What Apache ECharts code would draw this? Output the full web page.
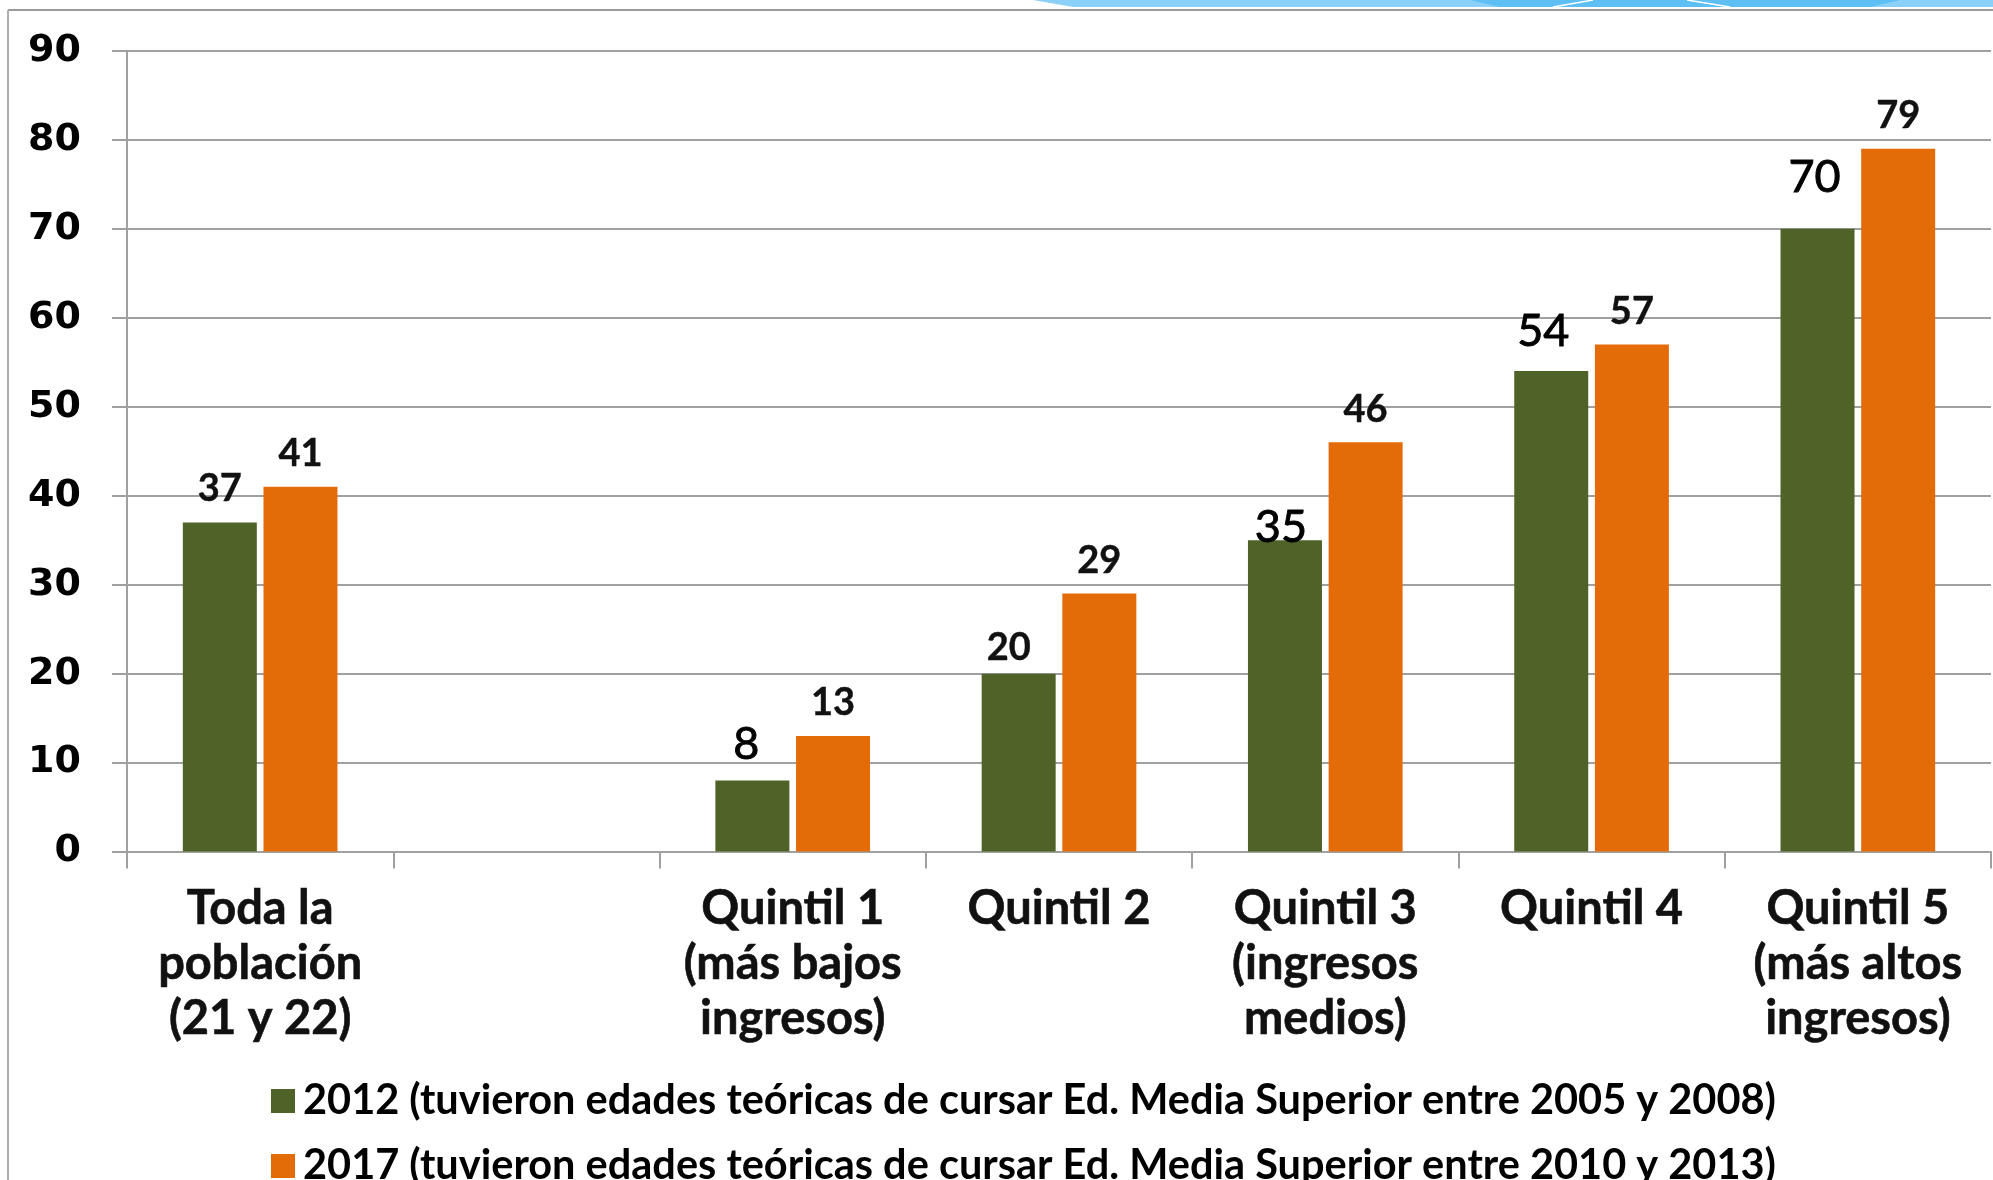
<!DOCTYPE html>
<html lang="es">
<head>
<meta charset="utf-8">
<title>Asistencia por quintil de ingreso</title>
<script src="https://cdn.jsdelivr.net/npm/echarts@6/dist/echarts.min.js"></script>
<style>
  html, body { margin: 0; padding: 0; background: #ffffff; }
  #chart { width: 1993px; height: 1180px; }
</style>
</head>
<body>
<div id="chart"></div>
<script>
// Categories (the second slot is an intentional empty gap)
const categories = [
  'Toda la\npoblación\n(21 y 22)',
  '',
  'Quintil 1\n(más bajos\ningresos)',
  'Quintil 2',
  'Quintil 3\n(ingresos\nmedios)',
  'Quintil 4',
  'Quintil 5\n(más altos\ningresos)'
];

// Series values (percent)
const values2012 = [37, null, 8, 20, 35, 54, 70];
const values2017 = [41, null, 13, 29, 46, 57, 79];

const seriesNames = [
  '2012 (tuvieron edades teóricas de cursar Ed. Media Superior entre 2005 y 2008)',
  '2017 (tuvieron edades teóricas de cursar Ed. Media Superior entre 2010 y 2013)'
];

// Value axis ticks
const yMin = 0;
const yMax = 90;
const yStep = 10;

// ---- styling ----
const GREEN = '#4F6228';
const ORANGE = '#E36C09';
const GRID_GRAY = '#a0a0a0';

const boldLabel = {
  fontFamily: 'Lato', fontWeight: 'bold', fontSize: 38, color: '#111',
  textBorderColor: '#111', textBorderWidth: 0.4
};
const plainLabel = {
  fontFamily: 'Lato', fontWeight: 'normal', fontSize: 45, color: '#000',
  textBorderColor: '#000', textBorderWidth: 0.9
};

// per-bar label appearance for the 2012 series (index -> style)
const greenLabelStyle = {
  0: Object.assign({ distance: 15, offset: [0, 0] }, boldLabel),
  2: Object.assign({ distance: 13, offset: [-6, 0] }, plainLabel),
  3: Object.assign({ distance: 7, offset: [-10, 0] }, boldLabel),
  4: Object.assign({ distance: -10, offset: [-4, 0] }, plainLabel),
  5: Object.assign({ distance: 17, offset: [-8, 0] }, plainLabel),
  6: Object.assign({ distance: 29, offset: [-3, 0] }, plainLabel)
};

const data2012 = values2012.map((v, i) => {
  if (v === null) return null;
  const s = greenLabelStyle[i] || {};
  return { value: v, label: Object.assign({ show: true, position: 'top' }, s) };
});
const data2017 = values2017.map(v => v);

const legendText = {
  fontFamily: 'Lato', fontWeight: 'bold', fontSize: 41.5, color: '#000',
  lineHeight: 44, padding: [0, 0, 0, 3]
};

// one legend block per series, stacked in two rows
function legendRow(name, top) {
  return {
    orient: 'horizontal',
    left: 266,
    top: top,
    icon: 'rect',
    itemWidth: 24,
    itemHeight: 24,
    data: [name],
    textStyle: legendText
  };
}

const chart = echarts.init(document.getElementById('chart'), null, { renderer: 'canvas' });

const option = {
  backgroundColor: '#ffffff',
  animation: false,
  grid: { left: 127, right: 2, top: 50.8, bottom: 328.4, containLabel: false },
  legend: [
    legendRow(seriesNames[0], 1074),
    legendRow(seriesNames[1], 1139)
  ],
  xAxis: {
    type: 'category',
    data: categories,
    boundaryGap: true,
    axisLine: { show: true, lineStyle: { color: GRID_GRAY, width: 2 } },
    axisTick: { show: true, length: 17, alignWithLabel: false, lineStyle: { color: GRID_GRAY, width: 2 } },
    axisLabel: {
      interval: 0,
      margin: 30,
      fontFamily: 'Lato',
      fontWeight: 'bold',
      fontSize: 47,
      lineHeight: 55,
      color: '#111',
      align: 'center',
      textBorderColor: '#111',
      textBorderWidth: 0.6
    },
    splitLine: { show: false }
  },
  yAxis: {
    type: 'value',
    min: yMin,
    max: yMax,
    interval: yStep,
    axisLine: { show: true, lineStyle: { color: GRID_GRAY, width: 2 } },
    axisTick: { show: true, length: 15, inside: false, lineStyle: { color: GRID_GRAY, width: 2 } },
    axisLabel: {
      margin: 46,
      fontFamily: 'DejaVu Sans',
      fontWeight: 'bold',
      fontSize: 38,
      color: '#000'
    },
    splitLine: { show: true, lineStyle: { color: GRID_GRAY, width: 2 } }
  },
  series: [
    {
      name: seriesNames[0],
      type: 'bar',
      data: data2012,
      barWidth: 74,
      barGap: '9%',
      itemStyle: { color: GREEN },
      label: { show: true, position: 'top' }
    },
    {
      name: seriesNames[1],
      type: 'bar',
      data: data2017,
      barWidth: 74,
      itemStyle: { color: ORANGE },
      label: Object.assign({ show: true, position: 'top', distance: 14 }, boldLabel)
    }
  ],
  graphic: [
    // slide frame: top and left edges
    { type: 'line', z: 0, shape: { x1: 8, y1: 10, x2: 1993, y2: 10 }, style: { stroke: '#9a9a9a', lineWidth: 2 } },
    { type: 'line', z: 0, shape: { x1: 8, y1: 10, x2: 8, y2: 1180 }, style: { stroke: '#b0b0b0', lineWidth: 2 } },
    // decorative ribbon along the top edge
    { type: 'polygon', z: 1, shape: { points: [[1033, 0], [1993, 0], [1993, 7], [1073, 7]] }, style: { fill: '#8BD0F8' } },
    { type: 'polygon', z: 2, shape: { points: [[1470, 0], [1900, 0], [1870, 7], [1500, 7]] }, style: { fill: '#5EBFF4' } },
    { type: 'line', z: 3, shape: { x1: 1553, y1: 7, x2: 1593, y2: 0 }, style: { stroke: '#ffffff', lineWidth: 1.5 } },
    { type: 'line', z: 3, shape: { x1: 1687, y1: 0, x2: 1730, y2: 7 }, style: { stroke: '#ffffff', lineWidth: 1.5 } }
  ]
};

chart.setOption(option);
</script>
</body>
</html>
